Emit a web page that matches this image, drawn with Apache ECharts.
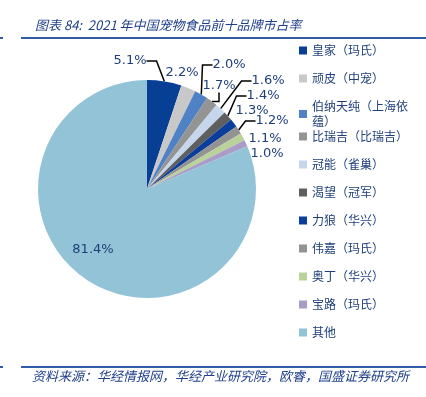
<!DOCTYPE html>
<html><head><meta charset="utf-8">
<script src="https://cdn.jsdelivr.net/npm/echarts@6/dist/echarts.min.js"></script>
<style>html,body{margin:0;padding:0;background:#fff}#c{width:426px;height:397px}</style>
</head><body><div id="c"></div>
<script>
const brands = ['皇家（玛氏）','顽皮（中宠）','伯纳天纯（上海依蕴）','比瑞吉（比瑞吉）','冠能（雀巢）','渴望（冠军）','力狼（华兴）','伟嘉（玛氏）','奥丁（华兴）','宝路（玛氏）','其他'];
const shares = [5.1, 2.2, 2.0, 1.7, 1.6, 1.4, 1.3, 1.2, 1.1, 1.0, 81.4];
const colors = ['#063f93','#c8c8c8','#4f81c5','#949494','#c6d6ec','#5f5f5f','#0a3d9c','#939393','#b9d29a','#a99cc6','#92c3d7'];
const titleText = '图表 84:  2021 年中国宠物食品前十品牌市占率';
const sourceText = '资料来源：华经情报网，华经产业研究院，欧睿，国盛证券研究所';
// label placement (label centres, as in the source figure) and whether a leader line is drawn
const labelCentres = [[130,61],[182,73],[229,65],[219,86],[268,81],[263,96],[252,111],[272,121],[265,139],[267,154],[93,250]];
const showLeader = [true,false,true,true,true,true,false,true,false,false,false];

const chart = echarts.init(document.getElementById('c'));
const navy = '#1f3f7a';
const data = brands.map((b,i)=>({
  name:b, value:shares[i], itemStyle:{color:colors[i]},
  labelLine:{show:showLeader[i]}
}));
const legendText = {color:'#1f3f7a', fontFamily:'Noto Sans CJK SC', fontSize:12, width:100, overflow:'break', lineHeight:15};
chart.setOption({
  animation:false,
  title:{text:titleText, left:30, top:14, textStyle:{fontSize:13, fontStyle:'italic', fontWeight:'normal', color:'#1f3f8a', fontFamily:'Noto Sans CJK SC'}},
  graphic:[
    {type:'line', shape:{x1:21,y1:38,x2:426,y2:38}, style:{stroke:'#2f5da8', lineWidth:2}},
    {type:'line', shape:{x1:0,y1:38,x2:3,y2:38}, style:{stroke:'#2f5da8', lineWidth:2}},
    {type:'line', shape:{x1:21,y1:367,x2:426,y2:367}, style:{stroke:'#2f5da8', lineWidth:2}},
    {type:'line', shape:{x1:0,y1:367,x2:3,y2:367}, style:{stroke:'#2f5da8', lineWidth:2}},
    {type:'text', left:32, top:370, style:{text:sourceText, fontSize:13, fontStyle:'italic', fill:'#1f3f8a', fontFamily:'Noto Sans CJK SC'}}
  ],
  legend:[
    {data:brands.slice(0,3), orient:'vertical', left:294, top:38, itemWidth:8, itemHeight:8, itemGap:13, icon:'rect', textStyle:legendText},
    {data:brands.slice(3), orient:'vertical', left:294, top:124, itemWidth:8, itemHeight:8, itemGap:13, icon:'rect', textStyle:legendText}
  ],
  series:[{
    type:'pie', center:[147,189], radius:109, startAngle:90, clockwise:true,
    data:data,
    label:{formatter:p=>p.value.toFixed(1)+'%', color:navy, fontSize:13, fontFamily:'DejaVu Sans'},
    labelLine:{length:10, length2:10, lineStyle:{color:'#000', width:1.5}},
    labelLayout:function(p){
      const c = labelCentres[p.dataIndex];
      return {x:c[0], y:c[1], align:'center', verticalAlign:'middle'};
    },
    itemStyle:{borderColor:'#fff', borderWidth:0}
  }]
});
</script></body></html>
